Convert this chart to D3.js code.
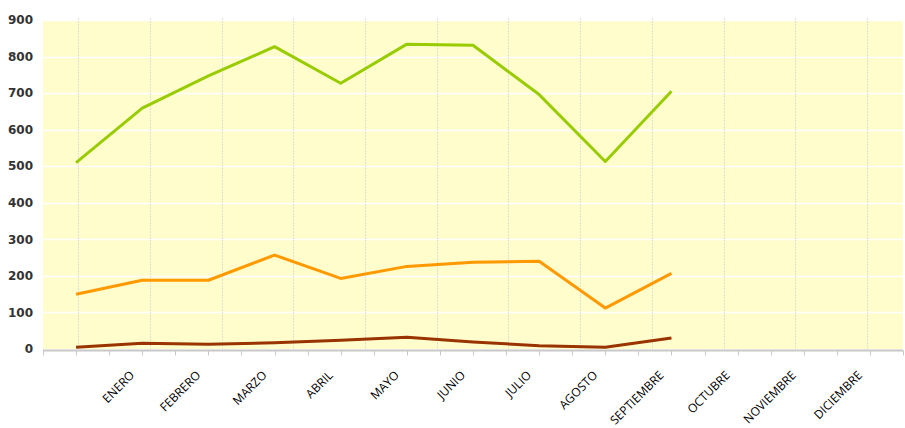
<!DOCTYPE html>
<html>
<head>
<meta charset="utf-8">
<script src="https://cdn.jsdelivr.net/npm/d3@7/dist/d3.min.js"></script>
<style>
  body { margin: 0; background: #fff; }
  svg { display: block; }
</style>
</head>
<body>
<svg id="chart"></svg>
<script>
// categories: first slot has no label
var meses = ["", "ENERO", "FEBRERO", "MARZO", "ABRIL", "MAYO", "JUNIO", "JULIO",
             "AGOSTO", "SEPTIEMBRE", "OCTUBRE", "NOVIEMBRE", "DICIEMBRE"];
var serieVerde   = [510, 659, 747, 827, 727, 834, 831, 696, 513, 705];
var serieNaranja = [150, 188, 188, 257, 193, 226, 237, 240, 112, 207];
var serieMarron  = [5, 16, 13, 17, 24, 32, 19, 9, 5, 30];
var yTicks = [0, 100, 200, 300, 400, 500, 600, 700, 800, 900];

var W = 905, H = 428;
var margin = {top: 20, right: 2, bottom: 79, left: 43};
var width = W - margin.left - margin.right,
    height = H - margin.top - margin.bottom;

var svg = d3.select("#chart").attr("width", W).attr("height", H);
var g = svg.append("g").attr("transform", "translate(" + margin.left + "," + margin.top + ")");

var x = d3.scaleBand().domain(d3.range(meses.length)).range([0, width]);
var y = d3.scaleLinear().domain([0, 900]).range([height, 0]);

// plot background
g.append("rect")
  .attr("width", width).attr("height", height)
  .attr("fill", "#fffdcc");

// horizontal grid
g.selectAll(".hgrid").data(yTicks.slice(1)).enter().append("line")
  .attr("x1", 0).attr("x2", width)
  .attr("y1", function(d){ return Math.round(y(d)) + 0.5; })
  .attr("y2", function(d){ return Math.round(y(d)) + 0.5; })
  .attr("stroke", "#ffffff").attr("stroke-width", 1.5);

// vertical dotted grid (12 lines)
var gx = d3.scaleLinear().domain([0, 11]).range([x.bandwidth() / 2 + 2, width - 36]);
g.selectAll(".vgrid").data(d3.range(12)).enter().append("line")
  .attr("x1", function(d){ return Math.round(gx(d)) + 0.5; })
  .attr("x2", function(d){ return Math.round(gx(d)) + 0.5; })
  .attr("y1", -2).attr("y2", height)
  .attr("stroke", "#e0e0d2").attr("stroke-width", 1)
  .attr("stroke-dasharray", "2,1");

// y labels
g.selectAll(".ylab").data(yTicks).enter().append("text")
  .attr("x", -10)
  .attr("y", function(d){ return y(d); })
  .attr("dy", "0.35em")
  .attr("text-anchor", "end")
  .attr("font-family", "DejaVu Sans, sans-serif")
  .attr("font-size", "12px")
  .attr("font-weight", "bold")
  .attr("fill", "#333")
  .text(function(d){ return d; });

// x axis line and ticks (band edges and centres)
var axisY = height + 1.5;
g.append("line")
  .attr("x1", 0).attr("x2", width)
  .attr("y1", axisY).attr("y2", axisY)
  .attr("stroke", "#c8c8c8").attr("stroke-width", 2);
var tickPos = [];
meses.forEach(function(m, i){
  tickPos.push(x(i));
  tickPos.push(x(i) + x.bandwidth() / 2);
});
tickPos.push(width);
g.selectAll(".tick").data(tickPos).enter().append("line")
  .attr("x1", function(d){ return Math.round(d) + 0.5; })
  .attr("x2", function(d){ return Math.round(d) + 0.5; })
  .attr("y1", axisY).attr("y2", axisY + 5)
  .attr("stroke", "#c8c8c8").attr("stroke-width", 1);

// x labels, rotated
g.selectAll(".xlab").data(meses).enter().append("text")
  .attr("transform", function(d, i){
    return "translate(" + (x(i) + x.bandwidth() / 2 - 7) + "," + (height + 27) + ") rotate(-45)";
  })
  .attr("text-anchor", "end")
  .attr("font-family", "Open Sans, sans-serif")
  .attr("font-size", "12px")
  .attr("fill", "#000")
  .text(function(d){ return d; });

// lines
var line = d3.line()
  .x(function(d, i){ return x(i) + x.bandwidth() / 2; })
  .y(function(d){ return y(d); });

[[serieVerde, "#99cc00"], [serieNaranja, "#ff9900"], [serieMarron, "#993300"]].forEach(function(s){
  g.append("path")
    .datum(s[0])
    .attr("d", line)
    .attr("fill", "none")
    .attr("stroke", s[1])
    .attr("stroke-width", 3)
    .attr("stroke-linejoin", "round");
});
</script>
</body>
</html>
